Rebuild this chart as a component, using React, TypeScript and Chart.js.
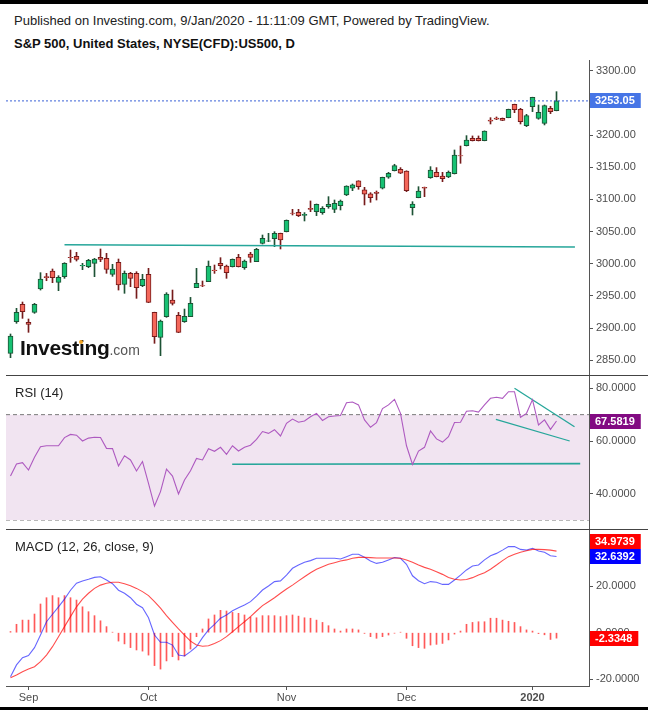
import React, { useEffect, useRef } from 'react';
import { Chart, registerables } from 'chart.js';

Chart.register(...registerables);

const FONT = 'Arial, "Liberation Sans", sans-serif';

// ---- Daily candles (28 Aug 2019 .. 8 Jan 2020), index = trading day ----
const opens = [
  2860.8, 2910.0, 2937.0, 2909.0, 2924.5, 2960.8, 2980.0, 2988.8, 2971.2, 2980.0,
  3010.2, 3011.6, 2996.5, 2995.5, 3000.7, 3010.0, 3008.4, 2983.6, 3002.2, 2968.1,
  2985.1, 2985.1, 2966.0, 2983.6, 2924.5, 2885.7, 2917.8, 2943.7, 2919.9, 2910.0,
  2917.8, 2962.9, 2966.0, 2972.2, 2990.3, 3000.7, 2996.5, 2995.5, 3010.0, 2993.9,
  3015.2, 3003.3, 3031.7, 3035.0, 3039.0, 3047.4, 3050.0, 3078.8, 3080.0, 3075.3,
  3086.2, 3081.0, 3079.5, 3088.8, 3084.6, 3090.3, 3106.9, 3117.3, 3128.7, 3114.7,
  3108.5, 3111.1, 3117.3, 3134.4, 3144.7, 3146.8, 3144.2, 3087.2, 3102.8, 3118.8,
  3133.8, 3142.1, 3136.4, 3134.9, 3140.0, 3168.0, 3183.5, 3194.9, 3194.9, 3191.3,
  3223.4, 3226.5, 3226.0, 3227.0, 3247.8, 3240.0, 3214.6, 3244.1, 3226.0, 3218.2,
  3241.5, 3237.9,
];
const highs = [
  2890.9, 2930.8, 2940.6, 2914.2, 2938.5, 2986.2, 2985.1, 2991.9, 2981.5, 3001.7,
  3021.4, 3017.8, 3000.7, 3006.9, 3008.4, 3023.0, 3016.2, 2999.1, 3007.4, 2988.8,
  2986.7, 2987.7, 2983.6, 2992.9, 2924.8, 2912.6, 2955.1, 2959.2, 2924.5, 2929.7,
  2947.8, 2992.9, 2973.2, 3004.3, 2998.1, 3009.5, 2998.0, 3007.5, 3014.7, 3005.9,
  3017.8, 3024.0, 3044.7, 3047.3, 3049.9, 3047.6, 3068.1, 3084.6, 3084.6, 3079.5,
  3097.6, 3092.9, 3088.8, 3104.3, 3099.1, 3099.1, 3121.2, 3124.0, 3129.0, 3118.8,
  3110.5, 3113.1, 3134.6, 3142.1, 3154.6, 3149.4, 3144.5, 3096.5, 3119.8, 3119.2,
  3150.9, 3149.4, 3142.1, 3144.2, 3176.8, 3183.0, 3199.1, 3198.6, 3198.6, 3206.5,
  3227.0, 3228.1, 3226.5, 3240.3, 3248.0, 3241.5, 3232.2, 3258.8, 3246.7, 3246.7,
  3244.7, 3267.4,
];
const lows = [
  2854.1, 2907.5, 2915.2, 2893.5, 2923.0, 2959.2, 2973.7, 2970.6, 2958.2, 2977.4,
  3002.2, 3004.3, 2990.8, 2993.9, 2980.0, 3003.3, 2985.2, 2980.5, 2959.2, 2954.1,
  2964.4, 2946.3, 2964.4, 2939.6, 2876.4, 2857.2, 2916.8, 2935.9, 2893.0, 2909.0,
  2917.8, 2962.9, 2964.4, 2972.2, 2985.1, 2991.9, 2977.4, 2995.0, 2995.0, 2991.4,
  3002.2, 3003.3, 3030.7, 3034.3, 3026.6, 3023.0, 3049.5, 3075.8, 3073.3, 3066.5,
  3081.0, 3074.8, 3076.9, 3086.2, 3079.5, 3083.6, 3105.9, 3113.6, 3115.7, 3091.4,
  3095.5, 3099.1, 3116.2, 3132.8, 3144.2, 3140.1, 3112.1, 3075.8, 3102.5, 3104.3,
  3132.8, 3135.0, 3127.6, 3133.8, 3139.5, 3156.1, 3183.0, 3190.8, 3190.8, 3191.0,
  3217.2, 3223.9, 3222.4, 3226.8, 3234.8, 3217.2, 3213.1, 3236.4, 3224.5, 3215.7,
  3233.3, 3237.6,
];
const closes = [
  2887.8, 2924.5, 2925.6, 2905.9, 2937.0, 2976.3, 2978.4, 2978.4, 2978.9, 3000.7,
  3009.3, 3006.9, 2997.6, 3005.3, 3007.4, 3006.9, 2991.4, 2991.9, 2967.0, 2985.1,
  2977.4, 2962.9, 2975.8, 2940.1, 2886.7, 2911.1, 2953.0, 2938.5, 2893.5, 2918.3,
  2938.5, 2969.6, 2965.5, 2996.5, 2989.3, 2997.0, 2986.2, 3006.9, 2995.5, 3004.3,
  3010.0, 3022.4, 3039.5, 3035.8, 3047.3, 3037.0, 3067.6, 3078.2, 3074.8, 3076.9,
  3084.6, 3092.4, 3086.2, 3092.4, 3094.0, 3097.6, 3120.9, 3122.5, 3119.9, 3108.0,
  3102.8, 3109.5, 3134.4, 3140.6, 3152.5, 3140.6, 3113.6, 3092.9, 3113.1, 3117.3,
  3145.7, 3135.4, 3132.3, 3142.1, 3169.0, 3167.5, 3192.3, 3191.3, 3191.3, 3206.3,
  3221.4, 3224.5, 3222.9, 3240.0, 3239.5, 3220.8, 3230.2, 3258.6, 3235.3, 3245.7,
  3236.4, 3253.05,
];

// ---- RSI (14) ----
const rsiValues = [
  46.7, 51.3, 51.8, 49.0, 53.8, 57.8, 58.2, 58.2, 58.2, 61.3,
  62.5, 62.2, 60.0, 61.1, 61.4, 61.3, 57.2, 57.1, 50.5, 54.4,
  52.8, 48.6, 52.2, 43.9, 35.3, 40.8, 49.3, 46.7, 39.9, 45.2,
  48.7, 53.4, 52.8, 57.1, 56.1, 57.6, 54.9, 58.2, 56.2, 57.6,
  58.4, 60.6, 63.6, 62.9, 64.3, 61.9, 66.7, 68.3, 67.1, 67.6,
  69.2, 70.5, 67.8, 69.2, 69.5, 69.7, 74.5, 74.8, 73.7, 68.0,
  65.2, 67.0, 72.3, 73.7, 75.8, 70.5, 58.2, 51.1, 56.2, 57.6,
  63.8, 60.8, 59.6, 61.6, 67.0, 67.1, 71.3, 71.5, 71.0, 73.7,
  76.2, 76.6, 76.2, 78.7, 78.7, 69.0, 70.5, 75.7, 66.1, 68.0,
  64.4, 67.58,
];

// ---- MACD (12, 26, close, 9) ----
const macdValues = [
  -18.9, -13.8, -10.7, -9.8, -6.4, -1.0, 4.7, 7.9, 11.1, 14.4,
  18.2, 21.2, 22.2, 22.9, 23.7, 24.0, 22.6, 21.0, 18.2, 16.9,
  15.0, 12.2, 10.7, 6.4, -1.0, -4.1, -4.1, -5.3, -9.6, -10.0,
  -8.1, -6.0, -2.1, 1.2, 3.6, 6.2, 7.6, 9.4, 10.7, 11.9,
  13.3, 15.7, 18.3, 20.0, 21.9, 22.2, 24.7, 27.6, 29.0, 30.2,
  30.9, 31.9, 31.9, 31.9, 31.9, 31.6, 32.6, 33.6, 33.6, 32.3,
  30.7, 29.7, 30.2, 31.2, 32.2, 31.9, 29.3, 24.4, 22.3, 21.0,
  21.9, 21.6, 20.7, 20.7, 22.6, 24.7, 26.9, 28.6, 29.0, 31.2,
  33.0, 34.0, 35.4, 36.9, 36.9, 35.7, 35.4, 36.2, 35.0, 34.5,
  33.0, 32.64,
];
const signalValues = [
  -19.3, -18.1, -16.7, -15.6, -14.6, -12.4, -9.6, -6.0, -1.7, 2.6,
  6.9, 11.1, 14.4, 16.9, 19.0, 20.4, 21.2, 21.6, 21.6, 21.0,
  20.1, 19.0, 17.6, 15.9, 13.3, 10.5, 7.3, 4.4, 1.6, -1.0,
  -3.6, -5.3, -5.8, -5.6, -4.6, -3.4, -1.7, 0.4, 2.6, 4.7,
  6.9, 9.3, 11.6, 13.3, 15.0, 16.9, 18.7, 20.4, 22.2, 24.0,
  25.7, 27.2, 28.3, 29.3, 30.0, 30.7, 31.2, 31.9, 32.3, 32.3,
  32.2, 32.0, 32.0, 32.0, 32.0, 31.9, 31.2, 30.2, 29.0, 28.0,
  27.2, 26.1, 25.0, 23.7, 22.9, 22.6, 22.8, 23.6, 24.7, 25.7,
  27.2, 29.0, 30.9, 32.6, 33.6, 34.5, 35.1, 35.7, 35.7, 35.6,
  35.4, 34.97,
];
const histValues = [
  0.5, 3.6, 5.4, 5.4, 8.0, 12.3, 15.0, 15.9, 15.0, 15.9,
  15.0, 14.0, 11.1, 9.0, 7.3, 5.1, 2.6, 0.2, -3.6, -4.8,
  -6.4, -7.4, -7.9, -9.6, -14.1, -15.6, -12.1, -10.3, -11.7, -10.0,
  -7.0, -1.7, 1.6, 5.9, 7.6, 9.6, 9.3, 8.7, 8.3, 7.6,
  6.7, 6.4, 7.3, 7.3, 7.3, 6.9, 7.3, 7.6, 7.1, 6.4,
  6.2, 5.4, 4.4, 3.0, 1.6, 0.7, 1.6, 1.6, 1.2, -0.3,
  -1.7, -2.4, -1.7, -1.0, -0.2, 0.2, -2.4, -5.6, -6.4, -6.7,
  -5.3, -5.0, -4.6, -3.1, -0.6, 0.7, 3.6, 4.4, 4.7, 4.7,
  6.2, 6.2, 5.4, 4.9, 4.4, 2.6, 1.2, 0.7, -0.4, -0.9,
  -2.9, -2.33,
];

// ---- Last values shown in the axis boxes ----
const lastPrice = 3253.05;
const lastRsi = 67.5819;
const lastMacd = 32.6392;
const lastSignal = 34.9739;
const lastHist = -2.3348;

// ---- Axis ticks ----
const monthTickIndex = [3, 23, 46, 66, 87];
const monthTickLabels = ['Sep', 'Oct', 'Nov', 'Dec', '2020'];
const priceTickValues = [2850, 2900, 2950, 3000, 3050, 3100, 3150, 3200, 3250, 3300];
const rsiTickValues = [40, 60, 80];
const macdTickValues = [-20, 0, 20];
const rsiUpperBand = 70;
const rsiLowerBand = 30;

// ---- Hand-drawn trend lines (index, value) ----
const priceSupportLine = [{ x: 9.0, y: 3029.6 }, { x: 94.07, y: 3026.1 }];
const rsiSupportLine = [{ x: 36.95, y: 51.2 }, { x: 94.95, y: 51.4 }];
const rsiUpperTrend = [{ x: 84.0, y: 80.0 }, { x: 94.0, y: 65.4 }];
const rsiLowerTrend = [{ x: 80.9, y: 68.2 }, { x: 93.2, y: 60.0 }];

// ---- Ranges ----
const X_MIN = -0.75;
const X_MAX = 96.4167;
const PRICE_MIN = 2827.2;
const PRICE_MAX = 3316.6;
const RSI_MIN = 26.6;
const RSI_MAX = 85.05;
const MACD_MIN = -22.85;
const MACD_MAX = 44.45;

const UP_FILL = '#17c173';
const UP_BORDER = '#1d5235';
const DOWN_FILL = '#f4675a';
const DOWN_BORDER = '#761b1b';
const TEAL = '#26a69a';
const AXIS = '#555555';
const TICK_TEXT = '#4d4d4d';

const idx = closes.map((_, i) => i);

type BoxItem = { value: number; color: string; text: string };

function boxPlugin(id: string, items: BoxItem[]) {
  return {
    id,
    afterDraw(chart: any) {
      const { ctx, chartArea } = chart;
      const ys = chart.scales.y;
      const h = 15;
      const placed = items
        .map((it) => ({ ...it, py: ys.getPixelForValue(it.value) }))
        .sort((a, b) => b.py - a.py);
      for (let k = 1; k < placed.length; k++) {
        const below = placed[k - 1];
        const cur = placed[k];
        if (below.py - cur.py < h) cur.py = below.py - h;
      }
      ctx.save();
      ctx.font = `bold 11px ${FONT}`;
      ctx.textBaseline = 'middle';
      ctx.textAlign = 'left';
      for (const p of placed) {
        const tw = ctx.measureText(p.text).width;
        const x0 = chartArea.right + 1;
        const top = Math.round(p.py - h / 2);
        ctx.fillStyle = p.color;
        ctx.fillRect(x0, top, tw + 11, h);
        ctx.fillStyle = '#ffffff';
        ctx.fillText(p.text, chartArea.right + 6, top + h / 2 + 0.5);
      }
      ctx.restore();
    },
  };
}

// small tick marks under the time axis, at the month positions
const monthTickMarks = {
  id: 'monthTickMarks',
  afterDraw(chart: any) {
    const { ctx, chartArea } = chart;
    const xs = chart.scales.x;
    ctx.save();
    ctx.strokeStyle = AXIS;
    ctx.lineWidth = 1;
    ctx.beginPath();
    for (const v of monthTickIndex) {
      const px = Math.round(xs.getPixelForValue(v)) + 0.5;
      ctx.moveTo(px, chartArea.bottom);
      ctx.lineTo(px, chartArea.bottom + 4);
    }
    ctx.stroke();
    ctx.restore();
  },
};

function yAxis(min: number, max: number, values: number[], digits: number) {
  return {
    type: 'linear',
    position: 'right',
    min,
    max,
    afterBuildTicks: (s: any) => {
      s.ticks = values.map((v) => ({ value: v }));
    },
    afterFit: (s: any) => {
      s.width = 59;
      s.paddingTop = 0;
      s.paddingBottom = 0;
    },
    ticks: {
      padding: 3,
      color: TICK_TEXT,
      font: { family: FONT, size: 11 },
      callback: (v: any) => Number(v).toFixed(digits),
    },
    grid: { drawOnChartArea: false, drawTicks: true, tickLength: 4, color: AXIS },
    border: { display: true, color: AXIS, width: 1 },
  };
}

const hiddenX = {
  type: 'linear',
  min: X_MIN,
  max: X_MAX,
  display: false,
  offset: false,
};

const baseOptions = (scales: any) => ({
  responsive: false,
  maintainAspectRatio: false,
  animation: false,
  devicePixelRatio: 1,
  events: [],
  layout: { padding: { left: 6, right: 0, top: 0, bottom: 0 } },
  plugins: { legend: { display: false }, tooltip: { enabled: false } },
  scales,
});

function flatLine(y: number) {
  return [{ x: X_MIN, y }, { x: X_MAX, y }];
}

export default function App() {
  const priceRef = useRef<HTMLCanvasElement>(null);
  const rsiRef = useRef<HTMLCanvasElement>(null);
  const macdRef = useRef<HTMLCanvasElement>(null);

  useEffect(() => {
    const up = idx.map((i) => closes[i] >= opens[i]);
    const charts: Chart[] = [];

    charts.push(
      new Chart(priceRef.current as HTMLCanvasElement, {
        type: 'bar',
        data: {
          datasets: [
            {
              type: 'line',
              data: flatLine(lastPrice),
              borderColor: '#3b62d6',
              borderWidth: 1,
              borderDash: [2, 2],
              pointRadius: 0,
              order: 0,
            } as any,
            {
              type: 'line',
              data: priceSupportLine,
              borderColor: TEAL,
              borderWidth: 1.6,
              pointRadius: 0,
              order: 1,
            } as any,
            {
              type: 'bar',
              data: idx.map((i) => ({ x: i, y: [Math.min(opens[i], closes[i]), Math.max(opens[i], closes[i])] })),
              backgroundColor: idx.map((i) => (up[i] ? UP_FILL : DOWN_FILL)),
              borderColor: idx.map((i) => (up[i] ? UP_BORDER : DOWN_BORDER)),
              borderWidth: 1,
              borderSkipped: false,
              barThickness: 5,
              grouped: false,
              order: 2,
            } as any,
            {
              type: 'bar',
              data: idx.map((i) => ({ x: i, y: [lows[i], highs[i]] })),
              backgroundColor: idx.map((i) => (up[i] ? UP_BORDER : DOWN_BORDER)),
              borderWidth: 0,
              barThickness: 1,
              grouped: false,
              order: 3,
            } as any,
          ],
        },
        options: baseOptions({
          x: hiddenX,
          y: yAxis(PRICE_MIN, PRICE_MAX, priceTickValues, 2),
        }) as any,
        plugins: [boxPlugin('priceBox', [{ value: lastPrice, color: '#4675e6', text: lastPrice.toFixed(2) }])],
      })
    );

    charts.push(
      new Chart(rsiRef.current as HTMLCanvasElement, {
        type: 'line',
        data: {
          datasets: [
            {
              data: idx.map((i) => ({ x: i, y: rsiValues[i] })),
              borderColor: '#ae5ac0',
              borderWidth: 1.1,
              pointRadius: 0,
              tension: 0,
              order: 0,
            },
            { data: rsiSupportLine, borderColor: TEAL, borderWidth: 1.6, pointRadius: 0, order: 1 },
            { data: rsiUpperTrend, borderColor: TEAL, borderWidth: 1.3, pointRadius: 0, order: 1 },
            { data: rsiLowerTrend, borderColor: TEAL, borderWidth: 1.3, pointRadius: 0, order: 1 },
            {
              data: flatLine(rsiUpperBand),
              borderColor: '#7a7a7a',
              borderWidth: 1,
              borderDash: [4, 3],
              pointRadius: 0,
              fill: { target: { value: rsiLowerBand } },
              backgroundColor: '#f1e4f1',
              order: 2,
            },
            {
              data: flatLine(rsiLowerBand),
              borderColor: '#7a7a7a',
              borderWidth: 1,
              borderDash: [4, 3],
              pointRadius: 0,
              order: 2,
            },
          ] as any,
        },
        options: baseOptions({
          x: hiddenX,
          y: yAxis(RSI_MIN, RSI_MAX, rsiTickValues, 4),
        }) as any,
        plugins: [boxPlugin('rsiBox', [{ value: lastRsi, color: '#820a82', text: lastRsi.toFixed(4) }])],
      })
    );

    charts.push(
      new Chart(macdRef.current as HTMLCanvasElement, {
        type: 'bar',
        data: {
          datasets: [
            {
              type: 'line',
              data: idx.map((i) => ({ x: i, y: signalValues[i] })),
              borderColor: 'rgba(255,0,0,0.7)',
              borderWidth: 1.1,
              pointRadius: 0,
              order: 0,
            } as any,
            {
              type: 'line',
              data: idx.map((i) => ({ x: i, y: macdValues[i] })),
              borderColor: 'rgba(0,0,255,0.6)',
              borderWidth: 1.1,
              pointRadius: 0,
              order: 1,
            } as any,
            {
              type: 'bar',
              data: idx.map((i) => ({ x: i, y: histValues[i] })),
              backgroundColor: 'rgba(255,60,60,0.85)',
              borderWidth: 0,
              barThickness: 1,
              grouped: false,
              order: 2,
            } as any,
          ],
        },
        options: baseOptions({
          x: {
            type: 'linear',
            position: 'bottom',
            min: X_MIN,
            max: X_MAX,
            offset: false,
            afterBuildTicks: (s: any) => {
              s.ticks = monthTickIndex.map((v) => ({ value: v }));
            },
            afterFit: (s: any) => {
              s.height = 24;
              s.paddingLeft = 0;
              s.paddingRight = 0;
            },
            ticks: {
              autoSkip: false,
              maxRotation: 0,
              padding: 5,
              color: TICK_TEXT,
              font: (c: any) => ({
                family: FONT,
                size: 11,
                weight: c.tick && c.tick.value === monthTickIndex[4] ? 'bold' : 'normal',
              }),
              callback: (v: any) => {
                const k = monthTickIndex.indexOf(Number(v));
                return k >= 0 ? monthTickLabels[k] : '';
              },
            },
            grid: { display: false, drawOnChartArea: false, drawTicks: false },
            border: { display: true, color: AXIS, width: 1 },
          },
          y: yAxis(MACD_MIN, MACD_MAX, macdTickValues, 4),
        }) as any,
        plugins: [
          monthTickMarks,
          boxPlugin('macdBox', [
            { value: lastSignal, color: '#ff0000', text: lastSignal.toFixed(4) },
            { value: lastMacd, color: '#0000ff', text: lastMacd.toFixed(4) },
            { value: lastHist, color: '#ff0000', text: lastHist.toFixed(4) },
          ]),
        ],
      })
    );

    return () => charts.forEach((c) => c.destroy());
  }, []);

  const abs = (s: React.CSSProperties): React.CSSProperties => ({ position: 'absolute', ...s });

  return (
    <div
      style={{
        position: 'absolute',
        left: 0,
        top: 0,
        width: 648,
        height: 710,
        background: '#ffffff',
        overflow: 'hidden',
        fontFamily: FONT,
      }}
    >
      <div style={abs({ left: 0, top: 0, width: 648, height: 4, background: '#000' })} />
      <div style={abs({ left: 0, top: 707, width: 648, height: 3, background: '#000' })} />
      <div style={abs({ left: 14, top: 13, fontSize: 13, lineHeight: '15px', color: '#222', whiteSpace: 'nowrap' })}>
        Published on Investing.com, 9/Jan/2020 - 11:11:09 GMT, Powered by TradingView.
      </div>
      <div
        style={abs({
          left: 14,
          top: 36,
          fontSize: 13,
          lineHeight: '15px',
          fontWeight: 'bold',
          color: '#111',
          whiteSpace: 'nowrap',
        })}
      >
        S&amp;P 500, United States, NYSE(CFD):US500, D
      </div>

      <canvas ref={priceRef} width={648} height={315} style={abs({ left: 0, top: 60, width: 648, height: 315 })} />
      <canvas ref={rsiRef} width={648} height={154} style={abs({ left: 0, top: 375, width: 648, height: 154 })} />
      <canvas ref={macdRef} width={648} height={181} style={abs({ left: 0, top: 529, width: 648, height: 181 })} />

      <div style={abs({ left: 6, top: 375, width: 642, height: 1, background: '#444' })} />
      <div style={abs({ left: 6, top: 529, width: 642, height: 1, background: '#444' })} />

      <div style={abs({ left: 20, top: 336, whiteSpace: 'nowrap', lineHeight: '24px' })}>
        <span style={{ fontSize: 21, fontWeight: 'bold', color: '#111', letterSpacing: '-0.3px' }}>Investing</span>
        <span style={{ fontSize: 14, color: '#555' }}>.com</span>
      </div>
      <div style={abs({ left: 79, top: 340, width: 4, height: 4, borderRadius: 2, background: '#f5a623' })} />

      <div style={abs({ left: 15, top: 385, fontSize: 13, lineHeight: '15px', color: '#222', whiteSpace: 'nowrap' })}>
        RSI (14)
      </div>
      <div style={abs({ left: 15, top: 539, fontSize: 13, lineHeight: '15px', color: '#222', whiteSpace: 'nowrap' })}>
        MACD (12, 26, close, 9)
      </div>
    </div>
  );
}
